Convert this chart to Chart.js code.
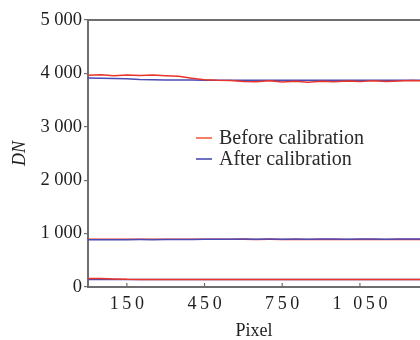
<!DOCTYPE html>
<html>
<head>
<meta charset="utf-8">
<script src="https://cdn.jsdelivr.net/npm/chart.js@4.4.1/dist/chart.umd.min.js"></script>
<style>
  html, body { margin: 0; padding: 0; background: #fff; }
  #wrap { width: 420px; height: 340px; }
</style>
</head>
<body>
<div id="wrap"><canvas id="chart"></canvas></div>
<script>
// values
const pixels = [0, 50, 100, 150, 200, 250, 300, 350, 400, 450, 500, 550, 600, 650,
                700, 750, 800, 850, 900, 950, 1000, 1050, 1100, 1150, 1200, 1250, 1300];

const beforeHigh = [3965, 3975, 3958, 3972, 3962, 3970, 3955, 3945, 3910, 3880, 3870, 3866, 3850, 3845,
                    3862, 3838, 3852, 3836, 3855, 3842, 3858, 3846, 3862, 3850, 3860, 3866, 3858];
const afterHigh  = [3912, 3910, 3905, 3900, 3885, 3880, 3878, 3876, 3875, 3874, 3874, 3873, 3872, 3873,
                    3872, 3872, 3873, 3872, 3871, 3872, 3872, 3871, 3872, 3871, 3872, 3872, 3872];
const beforeMid  = [895, 896, 895, 896, 895, 896, 895, 895, 896, 894, 893, 892, 892, 891,
                    892, 891, 890, 891, 890, 891, 890, 891, 890, 890, 891, 890, 890];
const afterMid   = [886, 887, 886, 887, 888, 887, 888, 889, 890, 893, 895, 896, 897, 896,
                    897, 896, 897, 896, 897, 897, 896, 897, 897, 896, 897, 897, 897];
const beforeLow  = [160, 161, 152, 143, 141, 141, 140, 141, 140, 141, 140, 141, 140, 141,
                    140, 141, 140, 141, 140, 141, 140, 141, 140, 141, 140, 141, 140];
const afterLow   = [142, 142, 141, 141, 141, 140, 141, 140, 141, 140, 141, 140, 141, 140,
                    141, 140, 141, 140, 141, 140, 141, 140, 141, 140, 141, 140, 141];

const xTicks = [150, 450, 750, 1050];
const yTicks = [0, 1000, 2000, 3000, 4000, 5000];
const seriesNames = ['Before calibration', 'After calibration'];

const RED = '#e8352b';
const BLUE = '#4b4bb5';
const AXIS = '#6e6e6e';
const SERIF = '"Liberation Serif", "Times New Roman", serif';

function thousands(v) {
  const s = String(v);
  return s.length > 3 ? s.slice(0, -3) + ' ' + s.slice(-3) : s;
}

function line(values, color, label) {
  return {
    label: label,
    data: pixels.map((p, i) => ({ x: p, y: values[i] })),
    borderColor: color,
    borderWidth: 1.5,
    pointRadius: 0,
    tension: 0
  };
}

const legendInside = {
  id: 'legendInside',
  afterDraw(chart) {
    const ctx = chart.ctx;
    const x0 = chart.chartArea.left + 108;
    const rows = [[seriesNames[0], '#f2603d', 138], [seriesNames[1], BLUE, 159]];
    ctx.save();
    ctx.font = '20px ' + SERIF;
    ctx.textBaseline = 'middle';
    rows.forEach(([txt, col, y]) => {
      ctx.strokeStyle = col;
      ctx.lineWidth = 1.6;
      ctx.beginPath();
      ctx.moveTo(x0, y);
      ctx.lineTo(x0 + 16, y);
      ctx.stroke();
      ctx.fillStyle = '#2a2a2a';
      ctx.fillText(txt, x0 + 23, y + 1);
    });
    ctx.restore();
  }
};

const innerTicks = {
  id: 'innerTicks',
  afterDraw(chart) {
    const ctx = chart.ctx;
    const xs = chart.scales.x;
    const bottom = chart.chartArea.bottom;
    ctx.save();
    ctx.strokeStyle = AXIS;
    ctx.lineWidth = 1.2;
    xTicks.forEach(v => {
      const px = xs.getPixelForValue(v);
      ctx.beginPath();
      ctx.moveTo(px, bottom);
      ctx.lineTo(px, bottom - 4);
      ctx.stroke();
    });
    ctx.restore();
  }
};

new Chart(document.getElementById('chart'), {
  type: 'line',
  data: {
    datasets: [
      line(beforeHigh, RED, seriesNames[0]),
      line(afterHigh, BLUE, seriesNames[1]),
      line(afterMid, BLUE, seriesNames[1]),
      line(beforeMid, RED, seriesNames[0]),
      line(beforeLow, RED, seriesNames[0]),
      line(afterLow, BLUE, seriesNames[1])
    ]
  },
  options: {
    responsive: true,
    maintainAspectRatio: false,
    animation: false,
    layout: { padding: { top: 20, right: 0, bottom: 0, left: 0 } },
    plugins: {
      legend: { display: false },
      tooltip: { enabled: false }
    },
    scales: {
      x: {
        type: 'linear',
        min: 0,
        max: 1282,
        afterFit(scale) { scale.height = 53; },
        afterBuildTicks(scale) { scale.ticks = xTicks.map(v => ({ value: v })); },
        border: { display: true, color: AXIS, width: 2 },
        grid: { display: false, drawTicks: false },
        ticks: {
          padding: 6,
          maxRotation: 0,
          autoSkip: false,
          color: '#1e1e1e',
          font: { family: SERIF, size: 18 },
          callback: v => thousands(v).split('').join('\u2009')
        },
        title: {
          display: true,
          text: 'Pixel',
          color: '#1e1e1e',
          font: { family: SERIF, size: 18, lineHeight: 1 },
          padding: { top: 0, bottom: 0 }
        }
      },
      x2: {
        type: 'linear',
        position: 'top',
        min: 0,
        max: 1282,
        afterFit(scale) { scale.height = 0; },
        border: { display: true, color: AXIS, width: 2 },
        grid: { display: false, drawTicks: false },
        ticks: { display: false }
      },
      y: {
        min: 0,
        max: 5000,
        afterFit(scale) { scale.width = 88; },
        afterBuildTicks(scale) { scale.ticks = yTicks.map(v => ({ value: v })); },
        border: { display: true, color: AXIS, width: 2 },
        grid: { display: true, drawOnChartArea: false, tickLength: 4, color: AXIS, lineWidth: 1.2 },
        ticks: {
          padding: 2,
          color: '#1e1e1e',
          font: { family: SERIF, size: 18.5 },
          callback: v => thousands(v)
        },
        title: {
          display: true,
          text: 'DN',
          color: '#1e1e1e',
          font: { family: SERIF, size: 18, style: 'italic', lineHeight: 1 },
          padding: { top: 11, bottom: 0 }
        }
      }
    }
  },
  plugins: [legendInside, innerTicks]
});
</script>
</body>
</html>
